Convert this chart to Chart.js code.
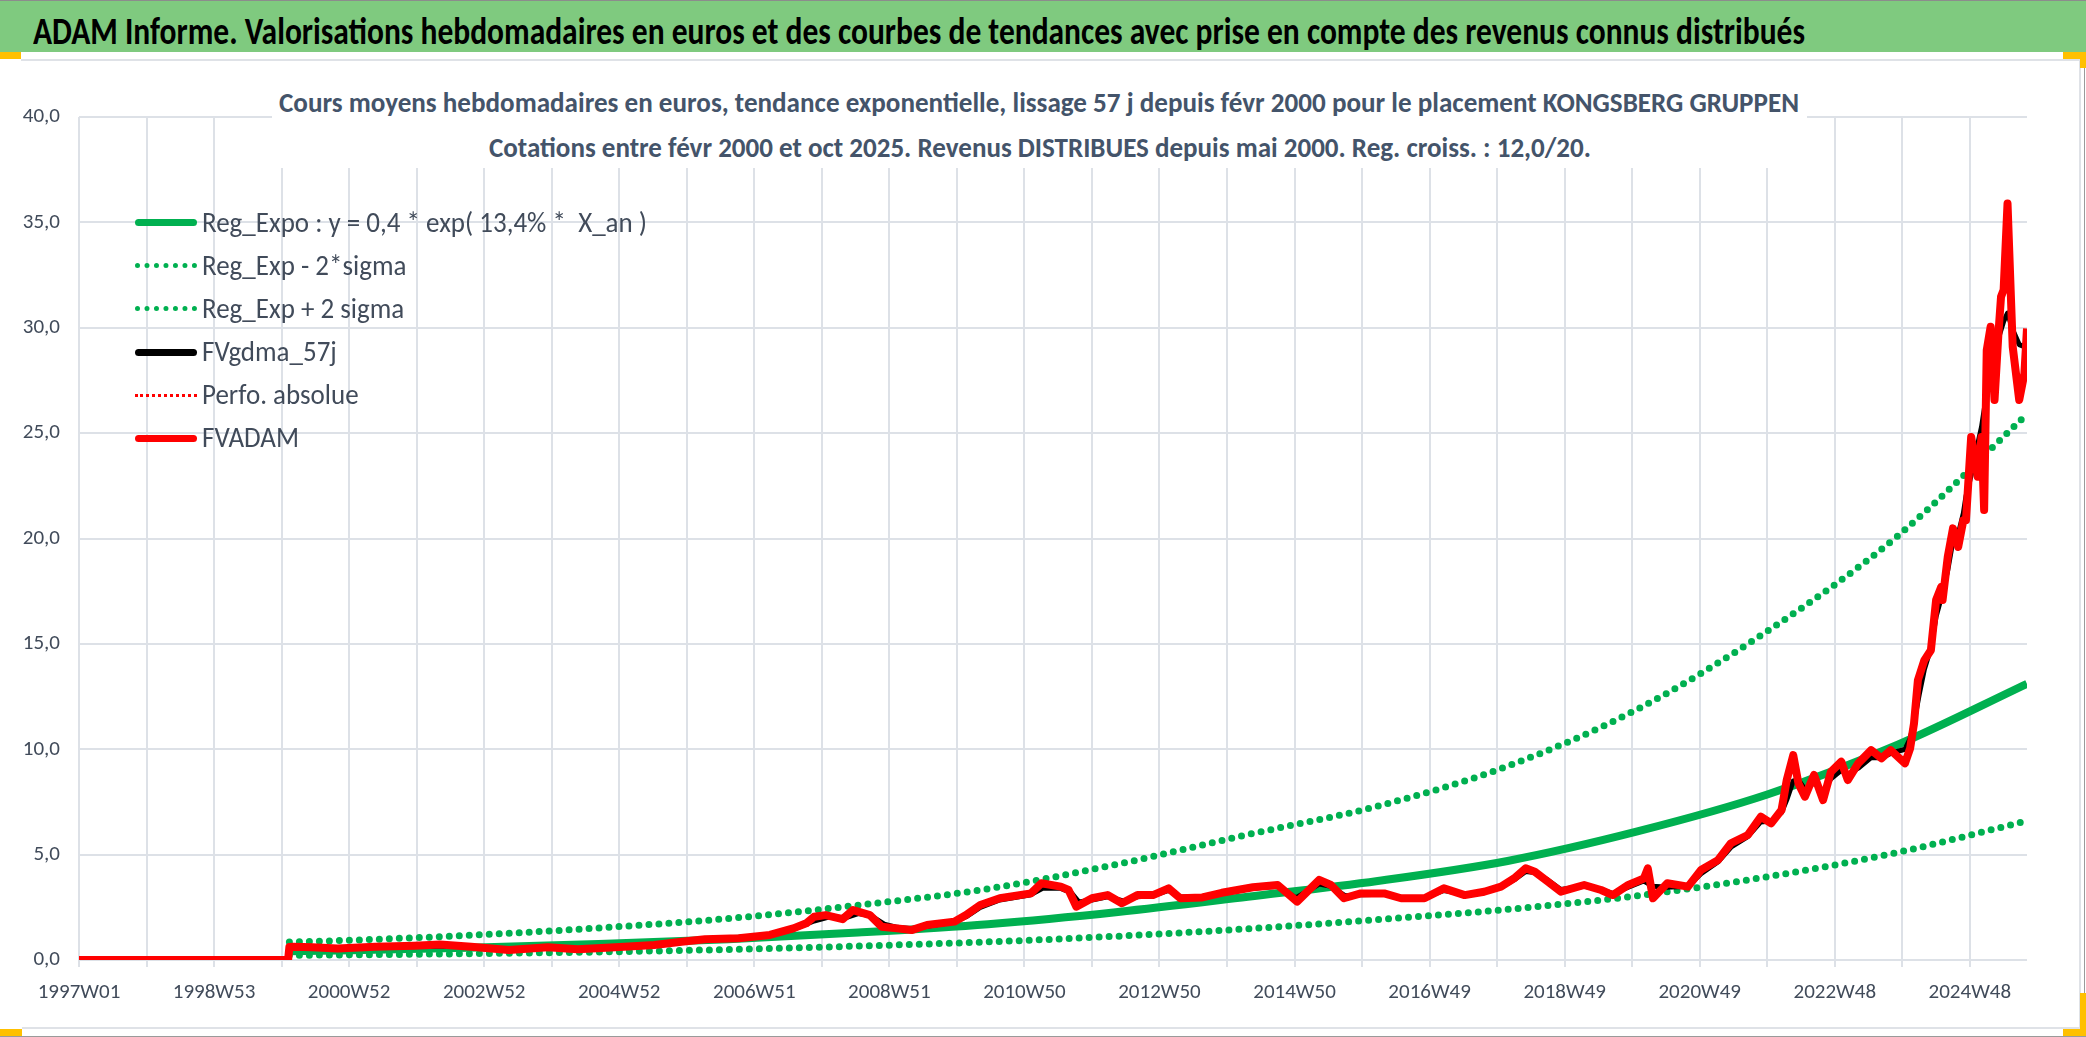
<!DOCTYPE html>
<html>
<head>
<meta charset="utf-8">
<title>KONGSBERG GRUPPEN</title>
<script src="https://cdn.jsdelivr.net/npm/chart.js@4.4.1/dist/chart.umd.min.js"></script>
<style>
  html, body { margin: 0; padding: 0; background: #fff; }
  body {
    width: 2086px; height: 1037px; position: relative; overflow: hidden;
    font-family: Carlito, "Liberation Sans Narrow", "Open Sans", sans-serif;
  }
  #banner {
    position: absolute; left: 0; top: 0; width: 2086px; height: 52px;
    background: #7fca7f; border-top: 1px solid #8c8c8c; box-sizing: border-box;
  }
  .fit { position: absolute; white-space: pre; transform-origin: left top; line-height: 1; }
  #bannerText { left: 33px; top: 12px; font-size: 38px; font-weight: bold; color: #000; }
  #frameTop { position: absolute; left: 21px; top: 59px; width: 2060px; height: 2px; background: #dfe2e7; }
  #frameRight { position: absolute; left: 2079px; top: 59px; width: 2px; height: 970px; background: #dfe2e7; }
  #frameBottom { position: absolute; left: 22px; top: 1027px; width: 2059px; height: 2px; background: #dfe2e7; }
  #edgeRight { position: absolute; left: 2084px; top: 68px; width: 1px; height: 969px; background: #9a9a9a; }
  #edgeBottom { position: absolute; left: 0; top: 1036px; width: 2086px; height: 1px; background: #9a9a9a; }
  .handle { position: absolute; background: #ffc000; }
  #chartBox { position: absolute; left: 0; top: 0; width: 2086px; height: 1037px; }
  #titleBox { position: absolute; left: 272px; top: 78px; width: 1535px; height: 90px; background: #fff; }
  .title { font-size: 29px; font-weight: bold; color: #44546a; }
  #legend { position: absolute; left: 0; top: 0; }
  .legSample { position: absolute; left: 135px; width: 62px; }
  .legText { font-size: 29px; color: #414b5a; }
</style>
</head>
<body>
<div id="banner"></div>
<div id="bannerText" class="fit">ADAM Informe. Valorisations hebdomadaires en euros et des courbes de tendances avec prise en compte des revenus connus distribués</div>
<div id="frameTop"></div>
<div id="frameRight"></div>
<div id="frameBottom"></div>
<div id="edgeRight"></div>
<div id="edgeBottom"></div>
<div class="handle" style="left:0;top:52px;width:21px;height:7px"></div>
<div class="handle" style="left:2063px;top:52px;width:23px;height:7px"></div>
<div class="handle" style="left:2080px;top:52px;width:6px;height:16px"></div>
<div class="handle" style="left:0;top:1029px;width:22px;height:7px"></div>
<div class="handle" style="left:2063px;top:1029px;width:23px;height:7px"></div>
<div class="handle" style="left:2080px;top:993px;width:6px;height:43px"></div>

<div id="chartBox"><canvas id="myChart"></canvas></div>

<div id="titleBox"></div>
<div id="title1" class="fit title" style="left:279px;top:88px">Cours moyens hebdomadaires en euros, tendance exponentielle, lissage 57 j depuis févr 2000 pour le placement KONGSBERG GRUPPEN</div>
<div id="title2" class="fit title" style="left:489px;top:133px">Cotations entre févr 2000 et oct 2025. Revenus DISTRIBUES depuis mai 2000. Reg. croiss. : 12,0/20.</div>
<div id="legend"></div>

<script>
// x = week index since 1997W01, one label every 104 weeks
const xTickLabels = ['1997W01', '1998W53', '2000W52', '2002W52', '2004W52', '2006W51', '2008W51',
    '2010W50', '2012W50', '2014W50', '2016W49', '2018W49', '2020W49', '2022W48', '2024W48']

// regression curve and its bands
const regWeeks = [162, 200, 300, 400, 500, 600, 700, 800, 900, 1000, 1100, 1200, 1300, 1400, 1500]
const regExpo  = [0.41, 0.45, 0.58, 0.76, 0.98, 1.30, 1.70, 2.28, 3.00, 3.75, 4.70, 6.10, 7.85, 10.2, 13.1]
const regLow   = [0.22, 0.24, 0.30, 0.38, 0.50, 0.66, 0.86, 1.13, 1.48, 1.92, 2.40, 3.05, 3.95, 5.10, 6.60]
const regHigh  = [0.85, 0.92, 1.17, 1.52, 1.97, 2.60, 3.38, 4.55, 5.95, 7.30, 9.20, 11.9, 15.6, 20.1, 25.9]

// FVADAM weekly value
const fvadamWeeks = [0, 161, 162, 165, 180, 199, 228, 258, 278, 302, 331, 361, 384, 420, 443, 464, 482, 508,
    532, 550, 560, 566, 575, 588, 596, 609, 618, 630, 641, 653, 674, 683, 694, 709, 733, 741, 756, 762, 768,
    780, 792, 803, 815, 827, 839, 848, 865, 880, 904, 923, 938, 955, 964, 974, 987, 1005, 1018, 1036, 1051,
    1067, 1082, 1095, 1105, 1114, 1121, 1131, 1141, 1159, 1172, 1181, 1193, 1205, 1208, 1212, 1223, 1239,
    1249, 1262, 1272, 1285, 1295, 1303, 1311, 1315, 1320, 1324, 1329, 1336, 1343, 1349, 1357, 1362, 1370,
    1380, 1388, 1395, 1406, 1410, 1413, 1416, 1421, 1426, 1430, 1434, 1435, 1439, 1443, 1447, 1451, 1453,
    1457, 1460, 1462, 1465, 1467, 1469, 1472, 1475, 1478, 1480, 1482, 1485, 1489, 1494, 1498, 1500]
const fvadamValues = [0, 0, 0.62, 0.63, 0.60, 0.55, 0.63, 0.68, 0.74, 0.63, 0.47, 0.60, 0.51, 0.63, 0.71, 0.87,
    0.98, 1.03, 1.19, 1.50, 1.74, 2.05, 2.13, 1.94, 2.37, 2.13, 1.58, 1.50, 1.42, 1.66, 1.82, 2.13, 2.61, 2.93,
    3.16, 3.64, 3.48, 3.32, 2.53, 2.93, 3.08, 2.69, 3.08, 3.08, 3.40, 2.93, 2.97, 3.19, 3.45, 3.56, 2.77, 3.80,
    3.56, 2.93, 3.16, 3.16, 2.93, 2.93, 3.40, 3.08, 3.24, 3.48, 3.87, 4.35, 4.19, 3.72, 3.24, 3.56, 3.32, 3.08,
    3.56, 3.87, 4.35, 2.93, 3.64, 3.48, 4.27, 4.74, 5.54, 5.93, 6.80, 6.48, 7.12, 8.54, 9.72, 8.38, 7.75, 8.78,
    7.59, 8.93, 9.41, 8.54, 9.33, 9.96, 9.57, 9.96, 9.33, 10.04, 11.23, 13.28, 14.23, 14.70, 17.08, 17.71,
    17.08, 19.13, 20.48, 19.60, 20.87, 20.87, 24.82, 23.72, 22.93, 24.82, 21.35, 28.94, 30.05, 26.57, 29.73,
    31.47, 31.79, 35.90, 29.10, 26.57, 27.83, 29.97]

// FVgdma_57j smoothed value
const gdmaWeeks = [0, 161, 162, 200, 260, 300, 330, 360, 385, 420, 445, 465, 482, 508, 532, 550, 566, 578, 590,
    600, 610, 620, 630, 641, 653, 674, 683, 694, 709, 733, 742, 756, 764, 770, 780, 792, 804, 815, 827, 839,
    848, 865, 880, 904, 923, 937, 955, 964, 975, 987, 1005, 1018, 1036, 1051, 1067, 1082, 1095, 1105, 1114,
    1121, 1131, 1141, 1159, 1172, 1181, 1193, 1205, 1212, 1223, 1239, 1249, 1262, 1272, 1285, 1295, 1303,
    1311, 1315, 1320, 1324, 1329, 1336, 1343, 1349, 1357, 1362, 1370, 1380, 1388, 1395, 1406, 1410, 1414,
    1417, 1421, 1426, 1430, 1434, 1439, 1443, 1447, 1451, 1453, 1457, 1460, 1465, 1470, 1473, 1478, 1482,
    1485, 1489, 1494, 1498, 1500]
const gdmaValues = [0, 0, 0.60, 0.57, 0.67, 0.65, 0.50, 0.58, 0.53, 0.62, 0.70, 0.85, 0.96, 1.03, 1.17, 1.45,
    1.85, 2.05, 2.00, 2.20, 2.10, 1.70, 1.55, 1.48, 1.60, 1.80, 2.05, 2.50, 2.85, 3.10, 3.40, 3.40, 3.20, 2.75,
    2.85, 3.00, 2.80, 3.00, 3.05, 3.30, 3.00, 2.95, 3.15, 3.40, 3.50, 2.95, 3.60, 3.50, 3.05, 3.10, 3.12, 2.98,
    2.95, 3.30, 3.12, 3.22, 3.45, 3.80, 4.20, 4.15, 3.80, 3.35, 3.50, 3.35, 3.15, 3.45, 3.75, 3.50, 3.45, 3.50,
    4.10, 4.65, 5.35, 5.85, 6.55, 6.60, 7.00, 7.60, 8.50, 8.55, 8.10, 8.40, 8.00, 8.60, 9.00, 8.80, 9.10, 9.60,
    9.60, 9.80, 10.0, 10.5, 11.6, 12.6, 13.8, 14.8, 16.3, 17.2, 18.5, 19.9, 20.2, 21.2, 22.0, 23.0, 23.9, 25.3,
    27.3, 28.2, 29.5, 30.3, 30.7, 29.9, 29.2, 29.1, 29.6]

function toPoints(weeks, values) {
    return weeks.map(function(w, i) { return {x: w, y: values[i]} })
}

const green = '#00b050'
const red = '#ff0000'

const datasets = [
    {label: 'Reg_Expo : y = 0,4 * exp( 13,4% *  X_an )', data: toPoints(regWeeks, regExpo),
        borderColor: green, borderWidth: 8, cubicInterpolationMode: 'monotone', order: 3, legendStyle: 'solid'},
    {label: 'Reg_Exp - 2*sigma', data: toPoints(regWeeks, regLow),
        borderColor: green, borderWidth: 7, borderDash: [0, 10], borderCapStyle: 'round',
        cubicInterpolationMode: 'monotone', order: 4, legendStyle: 'dotted'},
    {label: 'Reg_Exp + 2 sigma', data: toPoints(regWeeks, regHigh),
        borderColor: green, borderWidth: 7, borderDash: [0, 10], borderCapStyle: 'round',
        cubicInterpolationMode: 'monotone', order: 5, legendStyle: 'dotted'},
    {label: 'FVgdma_57j', data: toPoints(gdmaWeeks, gdmaValues),
        borderColor: '#000000', borderWidth: 5, order: 2, legendStyle: 'solid'},
    {label: 'Perfo. absolue', data: toPoints(fvadamWeeks, fvadamValues),
        borderColor: red, borderWidth: 3, borderDash: [0, 6], borderCapStyle: 'round', order: 1, legendStyle: 'dottedSmall'},
    {label: 'FVADAM', data: toPoints(fvadamWeeks, fvadamValues),
        borderColor: red, borderWidth: 8, order: 0, legendStyle: 'solid'}
]

const tickFont = {family: 'Carlito, "Liberation Sans Narrow", "Open Sans", sans-serif', size: 21}
const gridColor = '#dde1e7'

const ctx = document.getElementById('myChart').getContext('2d')
const myChart = new Chart(ctx, {
    type: 'line',
    data: {datasets: datasets},
    options: {
        responsive: true,
        maintainAspectRatio: false,
        animation: false,
        devicePixelRatio: 1,
        layout: {padding: {left: 0, right: 59, top: 117, bottom: 0}},
        elements: {
            point: {radius: 0},
            line: {tension: 0, borderJoinStyle: 'round', fill: false}
        },
        plugins: {
            legend: {display: false},
            title: {display: false},
            tooltip: {enabled: false}
        },
        scales: {
            x: {
                type: 'linear',
                min: 0,
                max: 1500,
                // one gridline every 52 weeks, no extra tick at the right edge
                afterBuildTicks: function(scale) {
                    const ticks = []
                    for (let w = 0; w <= 1500; w += 52) ticks.push({value: w})
                    scale.ticks = ticks
                },
                afterFit: function(scale) { scale.height = 77 },
                border: {display: false},
                grid: {color: gridColor, lineWidth: 2, drawTicks: true, tickLength: 7},
                ticks: {
                    autoSkip: false,
                    maxRotation: 0,
                    padding: 13,
                    color: '#414b5a',
                    font: tickFont,
                    callback: function(value) {
                        return value % 104 === 0 ? xTickLabels[value / 104] : ''
                    }
                }
            },
            y: {
                min: 0,
                max: 40,
                afterFit: function(scale) { scale.width = 79 },
                border: {display: false},
                grid: {color: gridColor, lineWidth: 2, drawTicks: false},
                ticks: {
                    stepSize: 5,
                    padding: 19,
                    color: '#414b5a',
                    font: tickFont,
                    callback: function(value) { return value.toFixed(1).replace('.', ',') }
                }
            }
        }
    }
})

// legend built from the datasets, stacked down the left of the plot
const legendBox = document.getElementById('legend')
const legendTexts = []
datasets.forEach(function(ds, i) {
    const cy = 222.7 + i * 43.1
    const sample = document.createElement('div')
    sample.className = 'legSample'
    if (ds.legendStyle === 'solid') {
        sample.style.top = (cy - 3.5) + 'px'
        sample.style.height = '7px'
        sample.style.borderRadius = '3.5px'
        sample.style.background = ds.borderColor
    } else if (ds.legendStyle === 'dotted') {
        sample.style.top = (cy - 2.5) + 'px'
        sample.style.borderTop = '5px dotted ' + ds.borderColor
    } else {
        sample.style.top = (cy - 1.5) + 'px'
        sample.style.borderTop = '3px dotted ' + ds.borderColor
    }
    legendBox.appendChild(sample)
    const txt = document.createElement('div')
    txt.className = 'fit legText'
    txt.style.left = '202px'
    txt.style.top = (cy - 15) + 'px'
    txt.textContent = ds.label
    legendBox.appendChild(txt)
    legendTexts.push(txt)
})

function fitWidth(el, target) {
    el.style.transform = 'none'
    const w = el.getBoundingClientRect().width
    el.style.transform = 'scaleX(' + (target / w) + ')'
    return target / w
}

fitWidth(document.getElementById('bannerText'), 1772)
fitWidth(document.getElementById('title1'), 1520)
fitWidth(document.getElementById('title2'), 1102)
const legendScale = fitWidth(legendTexts[0], 445)
legendTexts.forEach(function(t) { t.style.transform = 'scaleX(' + legendScale + ')' })
</script>
</body>
</html>
